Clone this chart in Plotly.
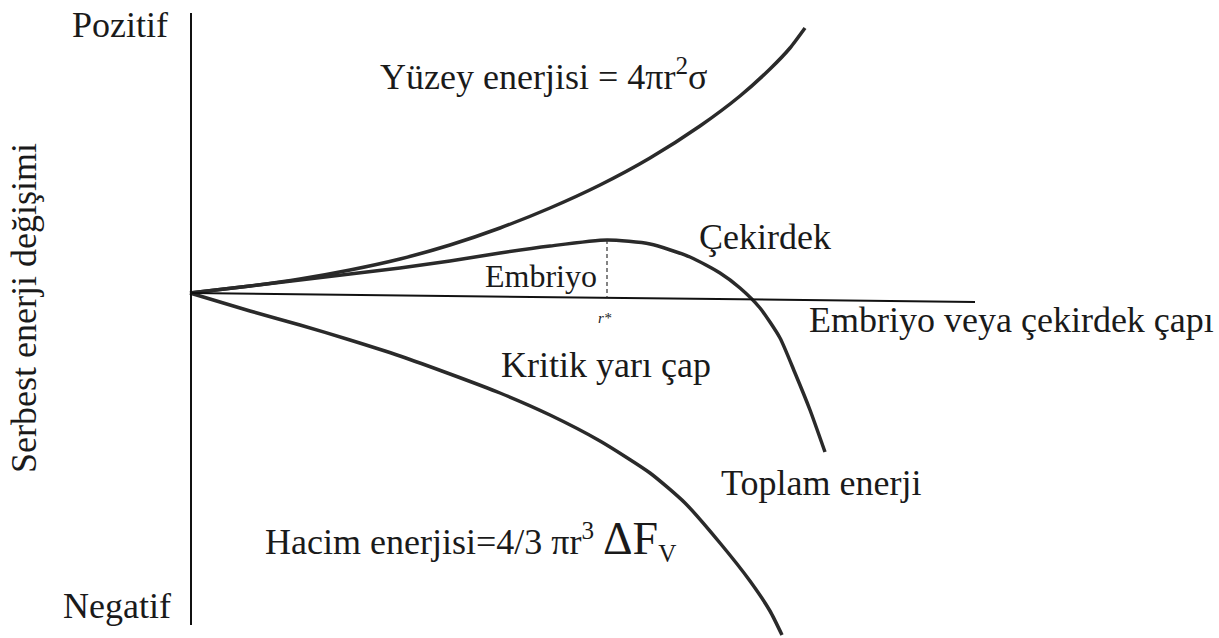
import plotly.graph_objects as go

# Radius (arbitrary units) and free-energy change (arbitrary units)
r_surface = [0, 0.6, 1.1, 1.6, 2.1, 2.6, 3.1, 3.6, 4.1, 4.6, 5.1, 5.5, 5.8, 6.0, 6.15]
g_surface = [0, 0.07, 0.14, 0.23, 0.34, 0.48, 0.65, 0.85, 1.08, 1.35, 1.67, 1.97, 2.24, 2.45, 2.65]

r_total = [0, 0.6, 1.1, 1.6, 2.1, 2.6, 3.1, 3.6, 4.17, 4.6, 5.0, 5.3, 5.5, 5.7, 5.9, 6.05, 6.2, 6.35]
g_total = [0, 0.07, 0.13, 0.19, 0.25, 0.32, 0.40, 0.47, 0.53, 0.49, 0.36, 0.20, 0.05, -0.15, -0.45, -0.80, -1.17, -1.59]

r_volume = [0, 0.6, 1.1, 1.6, 2.1, 2.6, 3.1, 3.6, 4.1, 4.6, 4.95, 5.3, 5.6, 5.8, 5.92]
g_volume = [0, -0.18, -0.32, -0.47, -0.63, -0.81, -1.00, -1.22, -1.48, -1.80, -2.10, -2.50, -2.88, -3.18, -3.42]

r_critical = 4.17
g_critical = 0.53

FONT = "Liberation Serif, Times New Roman, serif"
INK = "#1a1a1a"
CURVE = "#2a2a2a"

fig = go.Figure()
for rx, gy in [(r_surface, g_surface), (r_total, g_total), (r_volume, g_volume)]:
    fig.add_trace(go.Scatter(
        x=rx, y=gy, mode="lines",
        line=dict(color=CURVE, width=3.5, shape="spline", smoothing=0.6),
        hoverinfo="skip", showlegend=False,
    ))

# vertical energy axis and horizontal size axis
fig.add_shape(type="line", x0=0.01, x1=0.01, y0=2.80, y1=-3.32,
              line=dict(color="#111", width=2))
fig.add_shape(type="line", x0=0, x1=7.85, y0=0, y1=-0.09,
              line=dict(color="#111", width=2))
# critical radius marker
fig.add_shape(type="line", x0=r_critical, x1=r_critical, y0=g_critical, y1=-0.045,
              line=dict(color="#333", width=1.2, dash="4px,3px"))

def label(text, x, y, size=36, xanchor="left", **kw):
    fig.add_annotation(x=x, y=y, text=text, showarrow=False, xanchor=xanchor,
                       yanchor="middle", font=dict(family=FONT, size=size, color=INK), **kw)

label("Pozitif", -0.20, 2.68, xanchor="right")
label("Negatif", -0.17, -3.13, xanchor="right")
label("Yüzey enerjisi = 4πr<sup>2</sup>σ", 1.88, 2.19)
label("Çekirdek", 5.07, 0.56)
label("Embriyo", 2.93, 0.17, size=32)
label("<i>r*</i>", 4.15, -0.25, size=15, xanchor="center")
label("Embriyo veya çekirdek çapı", 6.17, -0.27)
label("Kritik yarı çap", 3.09, -0.72)
label("Toplam enerji", 5.29, -1.90)
label("Hacim enerjisi=4/3 πr<sup>3</sup> <span style='font-size:46px'>ΔF</span><sub>V</sub>",
      0.73, -2.47)
label("Serbest enerji değişimi", -1.66, -0.15, xanchor="center", textangle=-90)

fig.update_layout(
    width=1219, height=638,
    margin=dict(l=0, r=0, t=0, b=0),
    paper_bgcolor="white", plot_bgcolor="white",
    xaxis=dict(range=[-1.90, 10.29], visible=False, fixedrange=True),
    yaxis=dict(range=[-3.45, 2.93], visible=False, fixedrange=True),
    showlegend=False,
)

fig.write_html("out.html")
